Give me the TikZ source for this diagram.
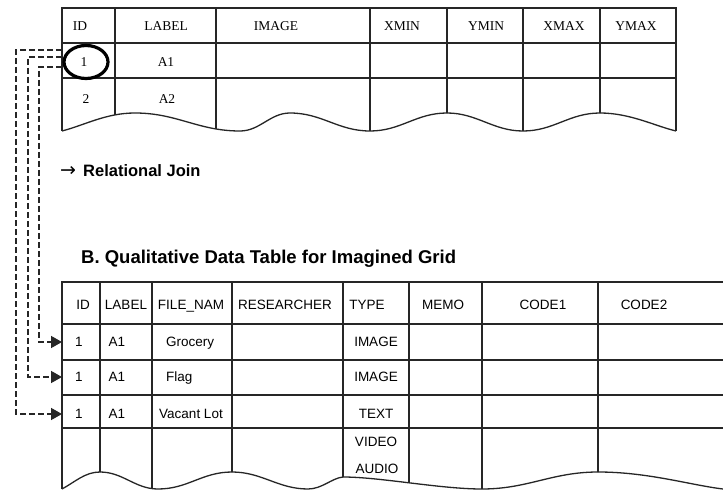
\documentclass[tikz,border=0pt]{standalone}
\usepackage{fontspec}
\setmainfont{Liberation Serif}
\newfontfamily\arialf{Liberation Sans}
\newfontfamily\dejavuf{DejaVu Sans}
\usetikzlibrary{arrows.meta,shapes.geometric}
\begin{document}
\begin{tikzpicture}[x=1pt,y=-1pt,
  grid/.style={line width=1.3pt, draw=black!85},
  tcell/.style={font=\fontsize{13.5}{15}\selectfont, inner sep=0pt, text height=8.9pt, text depth=0pt},
  bcell/.style={font=\arialf\fontsize{13.5}{16}\selectfont, inner sep=0pt, text height=9.7pt, text depth=0pt},
  joinline/.style={line width=1.5pt, draw=black!85, dash pattern=on 6pt off 3pt, -{Triangle[length=11pt,width=12pt]}},
  circled/.style={ellipse, draw, line width=3.2pt, minimum width=44pt, minimum height=33pt, inner sep=0pt}
]
\useasboundingbox (0,0) rectangle (723,492);
\fill[white] (0,0) rectangle (723,492);

\def\topwave{(62,131) .. controls (85,125) and (106,113) .. (135,113)
  .. controls (177,113) and (198,131) .. (240,131)
  .. controls (260,131) and (270,113) .. (290,113)
  .. controls (322,113) and (338,131) .. (370,131)
  .. controls (401,131) and (416,113) .. (447,113)
  .. controls (477,113) and (493,131) .. (523,131)
  .. controls (554,131) and (569,113) .. (600,113)
  .. controls (630,113) and (655,126) .. (676,131)}
\def\botwave{(62,489) .. controls (75,482) and (85,472) .. (100,472)
  .. controls (123,472) and (135,489) .. (158,489)
  .. controls (188,489) and (202,472) .. (232,472)
  .. controls (262,472) and (278,489) .. (308,489)
  .. controls (322,489) and (332,478) .. (343,477)
  .. controls (380,477) and (440,489) .. (482,489)
  .. controls (528,489) and (552,472) .. (598,472)
  .. controls (648,472) and (690,485) .. (723,489)}

% ---------- top table ----------
\begin{scope}
  \clip (62,0) -- \topwave -- (676,0) -- cycle;
  \foreach \x in {115,216,370,447,523,600}
    \draw[grid] (\x,8) -- (\x,140);
\end{scope}
\draw[grid] (62,131) -- (62,8) -- (676,8) -- (676,131);
\draw[grid] (62,43) -- (676,43);
\draw[grid] (62,78) -- (676,78);
\draw[grid] \topwave;

\node[tcell] (hID) at (80,26) {ID};
\node[tcell] (hLABEL) at (166,26) {LABEL};
\node[tcell] (hIMAGE) at (276,26) {IMAGE};
\node[tcell] (hXMIN) at (402,26) {XMIN};
\node[tcell] (hYMIN) at (486,26) {YMIN};
\node[tcell] (hXMAX) at (564,26) {XMAX};
\node[tcell] (hYMAX) at (636,26) {YMAX};
\node[tcell] (one) at (84,62) {1};
\node[circled] (ring) at (86,62) {};
\node[tcell] (a1) at (166,62) {A1};
\node[tcell] (two) at (86,99) {2};
\node[tcell] (a2) at (167,99) {A2};

% ---------- captions ----------
\node[inner sep=0pt, anchor=west, font=\dejavuf\fontsize{19}{22}\selectfont] (arr) at (60,171) {→};
\node[inner sep=0pt, anchor=west, font=\arialf\bfseries\fontsize{16.5}{20}\selectfont, text height=11.8pt, text depth=0pt] (rj) at (83,171) {Relational Join};
\node[inner sep=0pt, anchor=west, font=\arialf\bfseries\fontsize{18.5}{22}\selectfont, text height=13.2pt, text depth=0pt] (titleB) at (81,257) {B. Qualitative Data Table for Imagined Grid};

% ---------- bottom table ----------
\begin{scope}
  \clip (62,270) -- \botwave -- (723,270) -- cycle;
  \foreach \x in {100,152,232,343,409,482,598}
    \draw[grid] (\x,282) -- (\x,495);
\end{scope}
\draw[grid] (62,489) -- (62,282) -- (723,282);
\foreach \y in {324,360,395,428}
  \draw[grid] (62,\y) -- (723,\y);
\draw[grid] \botwave;

\node[bcell] (bID) at (83,305) {ID};
\node[bcell] (bLABEL) at (126,305) {LABEL};
\node[bcell] (bFILE) at (191,305) {FILE\_NAM};
\node[bcell] (bRES) at (285,305) {RESEARCHER};
\node[bcell] (bTYPE) at (367,305) {TYPE};
\node[bcell] (bMEMO) at (443,305) {MEMO};
\node[bcell] (bC1) at (543,305) {CODE1};
\node[bcell] (bC2) at (644,305) {CODE2};

\node[bcell] (r1id) at (79,342) {1};
\node[bcell] (r1lab) at (117,342) {A1};
\node[bcell, anchor=west] (r1file) at (166,342) {Grocery};
\node[bcell] (r1type) at (376,342) {IMAGE};

\node[bcell] (r2id) at (79,377) {1};
\node[bcell] (r2lab) at (117,377) {A1};
\node[bcell, anchor=west] (r2file) at (166,377) {Flag};
\node[bcell] (r2type) at (376,377) {IMAGE};

\node[bcell] (r3id) at (79,414) {1};
\node[bcell] (r3lab) at (117,414) {A1};
\node[bcell] (r3file) at (191,414) {Vacant Lot};
\node[bcell] (r3type) at (376,414) {TEXT};

\node[bcell] (r4a) at (376,442) {VIDEO};
\node[bcell] (r4b) at (377,469) {AUDIO};

% ---------- relational join connectors ----------
\coordinate (s1) at (62,50);
\coordinate (s2) at (62,57);
\coordinate (s3) at (62,67);
\coordinate (d1) at (62,342);
\coordinate (d2) at (62,377);
\coordinate (d3) at (62,414);
\coordinate (k1) at (16,0);
\coordinate (k2) at (28,0);
\coordinate (k3) at (39,0);
\draw[joinline] (s1) -| (k1 |- d3) -- (d3);
\draw[joinline] (s2) -| (k2 |- d2) -- (d2);
\draw[joinline] (s3) -| (k3 |- d1) -- (d1);
\end{tikzpicture}
\end{document}
